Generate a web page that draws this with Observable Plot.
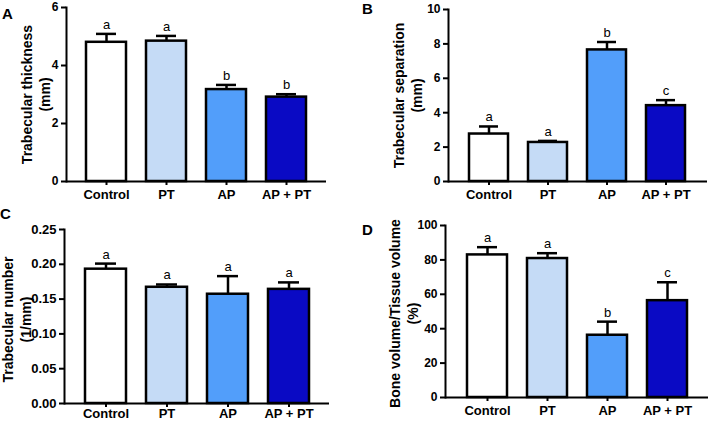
<!DOCTYPE html>
<html>
<head>
<meta charset="utf-8">
<script src="https://cdn.jsdelivr.net/npm/d3@7"></script>
<script src="https://cdn.jsdelivr.net/npm/@observablehq/plot@0.6"></script>
<style>
  html, body { margin: 0; padding: 0; background: #fff; }
  #wrap { position: relative; width: 708px; height: 422px; overflow: hidden; font-family: "Liberation Sans", Arial, sans-serif; }
  .panel { position: absolute; }
  .plab { position: absolute; font-size: 15px; line-height: 15px; font-weight: bold; color: #000; }
</style>
</head>
<body>
<div id="wrap"></div>
<script>
// ---- data ----
const groups = ["Control", "PT", "AP", "AP + PT"];
const groupColors = ["#ffffff", "#c5dbf6", "#529efa", "#0a0ac4"];

const thickness = [4.80, 4.84, 3.17, 2.91];
const thicknessErr = [0.29, 0.18, 0.16, 0.10];
const thicknessLetters = ["a", "a", "b", "b"];
const thicknessTicks = [0, 2, 4, 6];

const separation = [2.76, 2.27, 7.65, 4.41];
const separationErr = [0.44, 0.09, 0.46, 0.32];
const separationLetters = ["a", "a", "b", "c"];
const separationTicks = [0, 2, 4, 6, 8, 10];

const number = [0.193, 0.167, 0.157, 0.164];
const numberErr = [0.008, 0.004, 0.026, 0.010];
const numberLetters = ["a", "a", "a", "a"];
const numberTicks = [0, 0.05, 0.10, 0.15, 0.20, 0.25];

const bvtv = [82.9, 80.8, 36.2, 56.3];
const bvtvErr = [4.5, 3.1, 7.9, 10.7];
const bvtvLetters = ["a", "a", "b", "c"];
const bvtvTicks = [0, 20, 40, 60, 80, 100];

const wrap = document.getElementById("wrap");

function panel(opts) {
  const data = groups.map((g, i) => ({g, v: opts.values[i], e: opts.values[i] + opts.errs[i], l: opts.letters[i]}));
  const ymax = opts.ticks[opts.ticks.length - 1];
  const p = Plot.plot({
    width: 354,
    height: 211,
    marginLeft: opts.m[0], marginRight: opts.m[1], marginTop: opts.m[2], marginBottom: opts.m[3],
    x: {domain: groups, padding: 1/3, label: null},
    y: {domain: [0, ymax], label: null},
    color: {domain: groups, range: groupColors},
    style: {fontFamily: "Liberation Sans, Arial, sans-serif", fontSize: "12px", fontWeight: "bold", color: "#000", background: "transparent", overflow: "visible"},
    marks: [
      Plot.ruleX(data, {x: "g", y1: "v", y2: "e", stroke: "#000", strokeWidth: 2.5}),
      Plot.tickY(data, {x: "g", y: "e", stroke: "#000", strokeWidth: 2.5, insetLeft: 10, insetRight: 10}),
      Plot.barY(data, {x: "g", y: "v", fill: "g", stroke: "#000", strokeWidth: 2.5}),
      Plot.text(data, {x: "g", y: "e", text: "l", dy: -5, lineAnchor: "bottom", fontWeight: "normal", fontSize: 13, fill: "#000"}),
      Plot.axisY({ticks: opts.ticks, tickFormat: opts.fmt, tickSize: 5, tickPadding: 3, strokeWidth: 2, fontSize: opts.tickFont, fontWeight: "bold", label: null}),
      Plot.axisX({tickSize: 4, tickPadding: opts.xpad, strokeWidth: 2, fontSize: 13, fontWeight: "bold", label: null}),
      Plot.ruleY([0], {stroke: "#000", strokeWidth: 2}),
      Plot.frame({anchor: "left", stroke: "#000", strokeWidth: 2}),
      Plot.text([opts.title], {text: d => d, frameAnchor: "left", rotate: -90, dx: opts.tdx, dy: opts.tdy, fontSize: 14, fontWeight: "bold", lineHeight: 1.3, textAnchor: "middle", fill: "#000"})
    ]
  });
  p.classList.add("panel");
  p.style.left = opts.left + "px";
  p.style.top = opts.top + "px";
  wrap.appendChild(p);
  const lab = document.createElement("div");
  lab.className = "plab";
  lab.textContent = opts.label;
  lab.style.left = opts.lx + "px";
  lab.style.top = opts.ly + "px";
  wrap.appendChild(lab);
}

panel({values: thickness, errs: thicknessErr, letters: thicknessLetters, ticks: thicknessTicks, fmt: d3.format("d"),
  title: "Trabecular thickness\n(mm)", m: [66, 28, 7, 30], tickFont: 12, xpad: 4, tdx: -31, tdy: 0,
  left: 0, top: 0, label: "A", lx: 2, ly: 6});
panel({values: separation, errs: separationErr, letters: separationLetters, ticks: separationTicks, fmt: d3.format("d"),
  title: "Trabecular separation\n(mm)", m: [94, 1, 9, 30], tickFont: 12, xpad: 4, tdx: -41, tdy: 0,
  left: 354, top: 0, label: "B", lx: 362, ly: 1});
panel({values: number, errs: numberErr, letters: numberLetters, ticks: numberTicks, fmt: d3.format(".2f"),
  title: "Trabecular number\n(1/mm)", m: [64, 25, 18, 19], tickFont: 13, xpad: 1, tdx: -48, tdy: 3,
  left: 0, top: 211, label: "C", lx: 0, ly: 206});
panel({values: bvtv, errs: bvtvErr, letters: bvtvLetters, ticks: bvtvTicks, fmt: d3.format("d"),
  title: "Bone volume/Tissue volume\n(%)", m: [91, 0, 14, 25], tickFont: 12, xpad: 4, tdx: -42, tdy: 2,
  left: 354, top: 211, label: "D", lx: 362, ly: 222});
</script>
</body>
</html>
